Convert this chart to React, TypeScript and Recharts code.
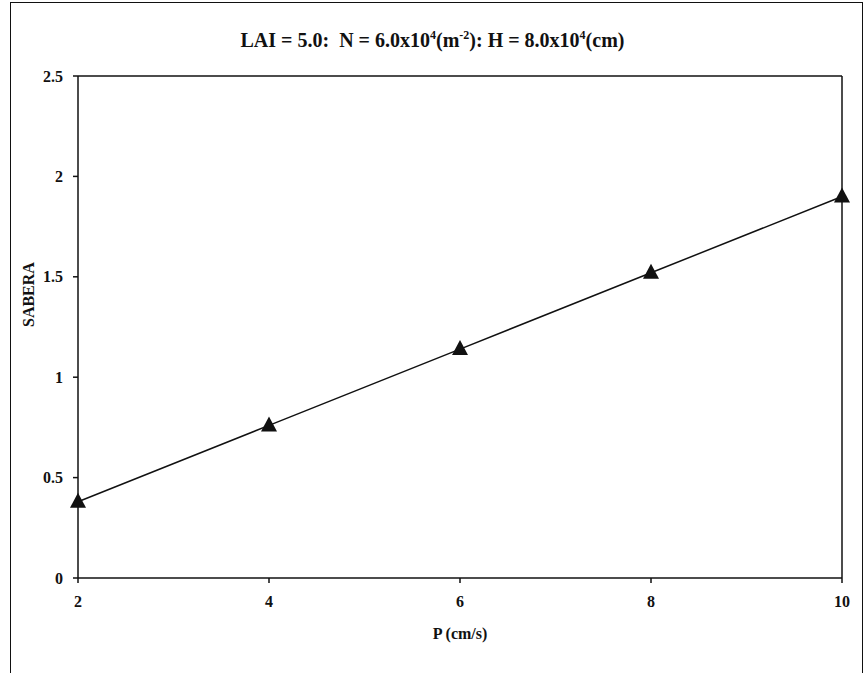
import { Line, LineChart, ReferenceLine, XAxis, YAxis } from "recharts";

const P_VALUES = [2, 4, 6, 8, 10];
const SABERA = [0.38, 0.76, 1.14, 1.52, 1.9];
const X_TICKS = [2, 4, 6, 8, 10];
const Y_TICKS = [0, 0.5, 1, 1.5, 2, 2.5];

const INK = "#111";
const FONT = "'Liberation Serif', 'Times New Roman', serif";

const data = P_VALUES.map((p, i) => ({ p, sabera: SABERA[i] }));

function Triangle(props: { cx?: number; cy?: number }) {
  const { cx, cy } = props;
  if (cx == null || cy == null) return null;
  return <path d={`M${cx},${cy - 9} L${cx + 8},${cy + 6} L${cx - 8},${cy + 6} Z`} fill={INK} />;
}

export default function App() {
  return (
    <div style={{ position: "absolute", left: 0, top: 0, width: 865, height: 673, background: "#fff", fontFamily: FONT }}>
      <div
        style={{
          position: "absolute",
          left: 10,
          top: 2,
          width: 851,
          height: 680,
          borderLeft: `1.5px solid ${INK}`,
          borderTop: `1.5px solid ${INK}`,
          borderRight: `1.5px solid ${INK}`,
        }}
      />
      <div
        style={{
          position: "absolute",
          left: 0,
          top: 28,
          width: 865,
          textAlign: "center",
          fontWeight: "bold",
          fontSize: 20,
          color: INK,
        }}
      >
        LAI = 5.0:&nbsp; N = 6.0x10<sup style={{ fontSize: 12 }}>4</sup>(m<sup style={{ fontSize: 12 }}>-2</sup>): H = 8.0x10
        <sup style={{ fontSize: 12 }}>4</sup>(cm)
      </div>
      <LineChart
        width={865}
        height={673}
        data={data}
        margin={{ top: 76, right: 23, bottom: 0, left: 0 }}
        style={{ position: "absolute", left: 0, top: 0 }}
      >
        <XAxis
          dataKey="p"
          type="number"
          domain={[2, 10]}
          ticks={X_TICKS}
          height={95}
          stroke={INK}
          strokeWidth={1.5}
          tickSize={5}
          tickMargin={13}
          tick={{ fill: INK, fontSize: 16, fontWeight: "bold", fontFamily: FONT }}
          label={{ value: "P (cm/s)", position: "insideTop", offset: 50, fill: INK, fontSize: 16, fontWeight: "bold", fontFamily: FONT }}
        />
        <YAxis
          type="number"
          domain={[0, 2.5]}
          ticks={Y_TICKS}
          width={78}
          stroke={INK}
          strokeWidth={1.5}
          tickSize={5}
          tickMargin={10}
          tick={{ fill: INK, fontSize: 16, fontWeight: "bold", fontFamily: FONT }}
          label={{ value: "SABERA", angle: -90, position: "insideLeft", offset: 28, fill: INK, fontSize: 16, fontWeight: "bold", fontFamily: FONT }}
        />
        <ReferenceLine y={2.5} stroke={INK} strokeWidth={1.5} />
        <ReferenceLine x={10} stroke={INK} strokeWidth={1.5} />
        <Line
          dataKey="sabera"
          stroke={INK}
          strokeWidth={1.5}
          dot={<Triangle />}
          activeDot={false}
          isAnimationActive={false}
        />
      </LineChart>
    </div>
  );
}
